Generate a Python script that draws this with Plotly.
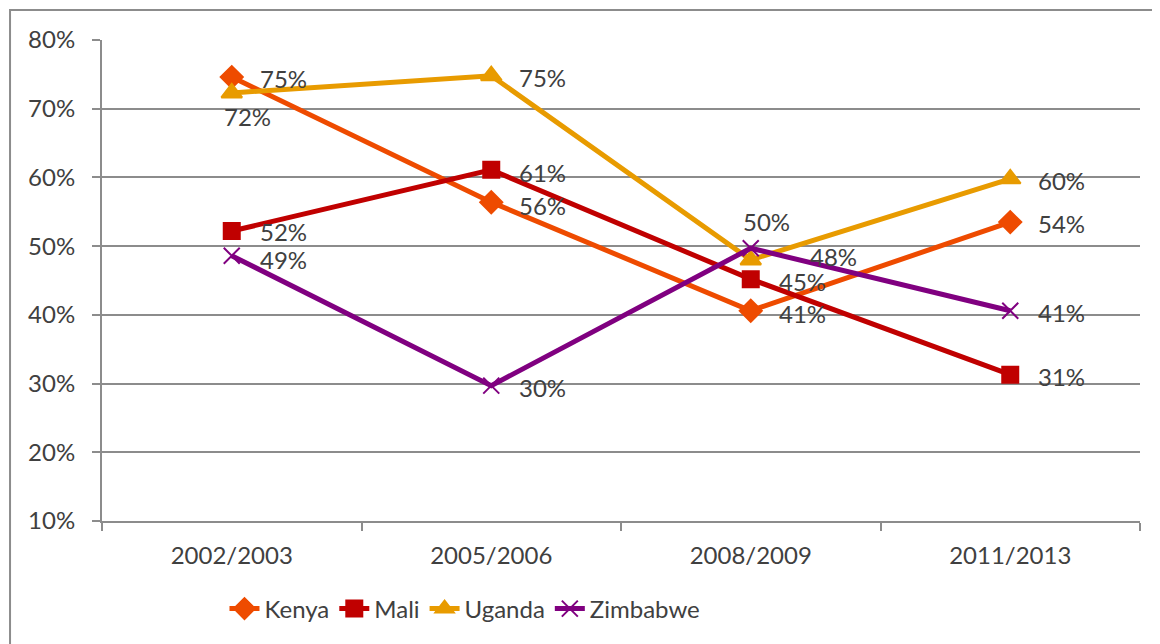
import plotly.graph_objects as go

periods = ["2002/2003", "2005/2006", "2008/2009", "2011/2013"]

kenya = [0.746, 0.564, 0.406, 0.535]
mali = [0.522, 0.611, 0.452, 0.313]
uganda = [0.723, 0.748, 0.480, 0.598]
zimbabwe = [0.486, 0.297, 0.497, 0.406]

# label offsets in pixels (dx, dy) relative to the point
kenya_off = [(26, -1), (26, -3), (26, -3), (26, -1)]
mali_off = [(26, 0), (26, -3), (26, -2), (26, -2)]
uganda_off = [(-10, -24), (26, -2), (57, 3), (26, -2)]
zimbabwe_off = [(26, -4), (26, -2), (-10, 27), (26, -2)]

FONT = "Lato"
TXT = "#404040"
GRID = "#8c8c8c"

series = [
    ("Kenya", kenya, kenya_off, "#EE4B00", "diamond", 17),
    ("Mali", mali, mali_off, "#C00000", "square", 16),
    ("Uganda", uganda, uganda_off, "#E89B00", "triangle-up", 18),
    ("Zimbabwe", zimbabwe, zimbabwe_off, "#800080", "x-thin-open", 16),
]

fig = go.Figure()
annotations = []
for name, vals, offs, color, symbol, size in series:
    fig.add_trace(go.Scatter(
        x=periods, y=vals, name=name,
        mode="lines+markers",
        line=dict(color=color, width=5),
        marker=dict(symbol=symbol, size=size, color=color,
                    line=dict(color=color, width=2)),
        cliponaxis=False,
    ))
    for p, v, (dx, dy) in zip(periods, vals, offs):
        annotations.append(dict(
            x=p, y=v, text=f"{v:.0%}", showarrow=False,
            xanchor="left", yanchor="middle", xshift=dx, yshift=dy,
            font=dict(family=FONT, size=24, color=TXT),
        ))

fig.update_layout(
    width=1152, height=636,
    margin=dict(l=94, r=20, t=32, b=123),
    paper_bgcolor="white", plot_bgcolor="white",
    font=dict(family=FONT, size=24, color=TXT),
    showlegend=True,
    legend=dict(orientation="h", x=0.118, xanchor="left", y=-0.183, yanchor="middle",
                font=dict(family=FONT, size=24, color=TXT),
                traceorder="normal"),
    annotations=annotations,
    shapes=[dict(type="rect", xref="paper", yref="paper",
                 x0=-0.0886, y0=-0.6, x1=1.2, y1=1.0624,
                 line=dict(color="#8c8c8c", width=2), layer="below")],
)

fig.update_xaxes(
    type="category", range=[-0.5, 3.5],
    showgrid=False, showline=True, linecolor=GRID, linewidth=2,
    ticks="outside", tickson="boundaries", ticklen=8, tickcolor=GRID, tickwidth=2,
    ticklabelstandoff=12,
    tickfont=dict(family=FONT, size=24, color=TXT),
)
fig.update_yaxes(
    range=[0.1, 0.8], dtick=0.1, tickformat=".0%",
    showgrid=True, gridcolor=GRID, gridwidth=2,
    showline=True, linecolor=GRID, linewidth=2,
    ticks="outside", ticklen=8, tickcolor=GRID, tickwidth=2,
    ticklabelstandoff=12,
    tickfont=dict(family=FONT, size=24, color=TXT),
    zeroline=False,
)

fig.write_html("out.html")
